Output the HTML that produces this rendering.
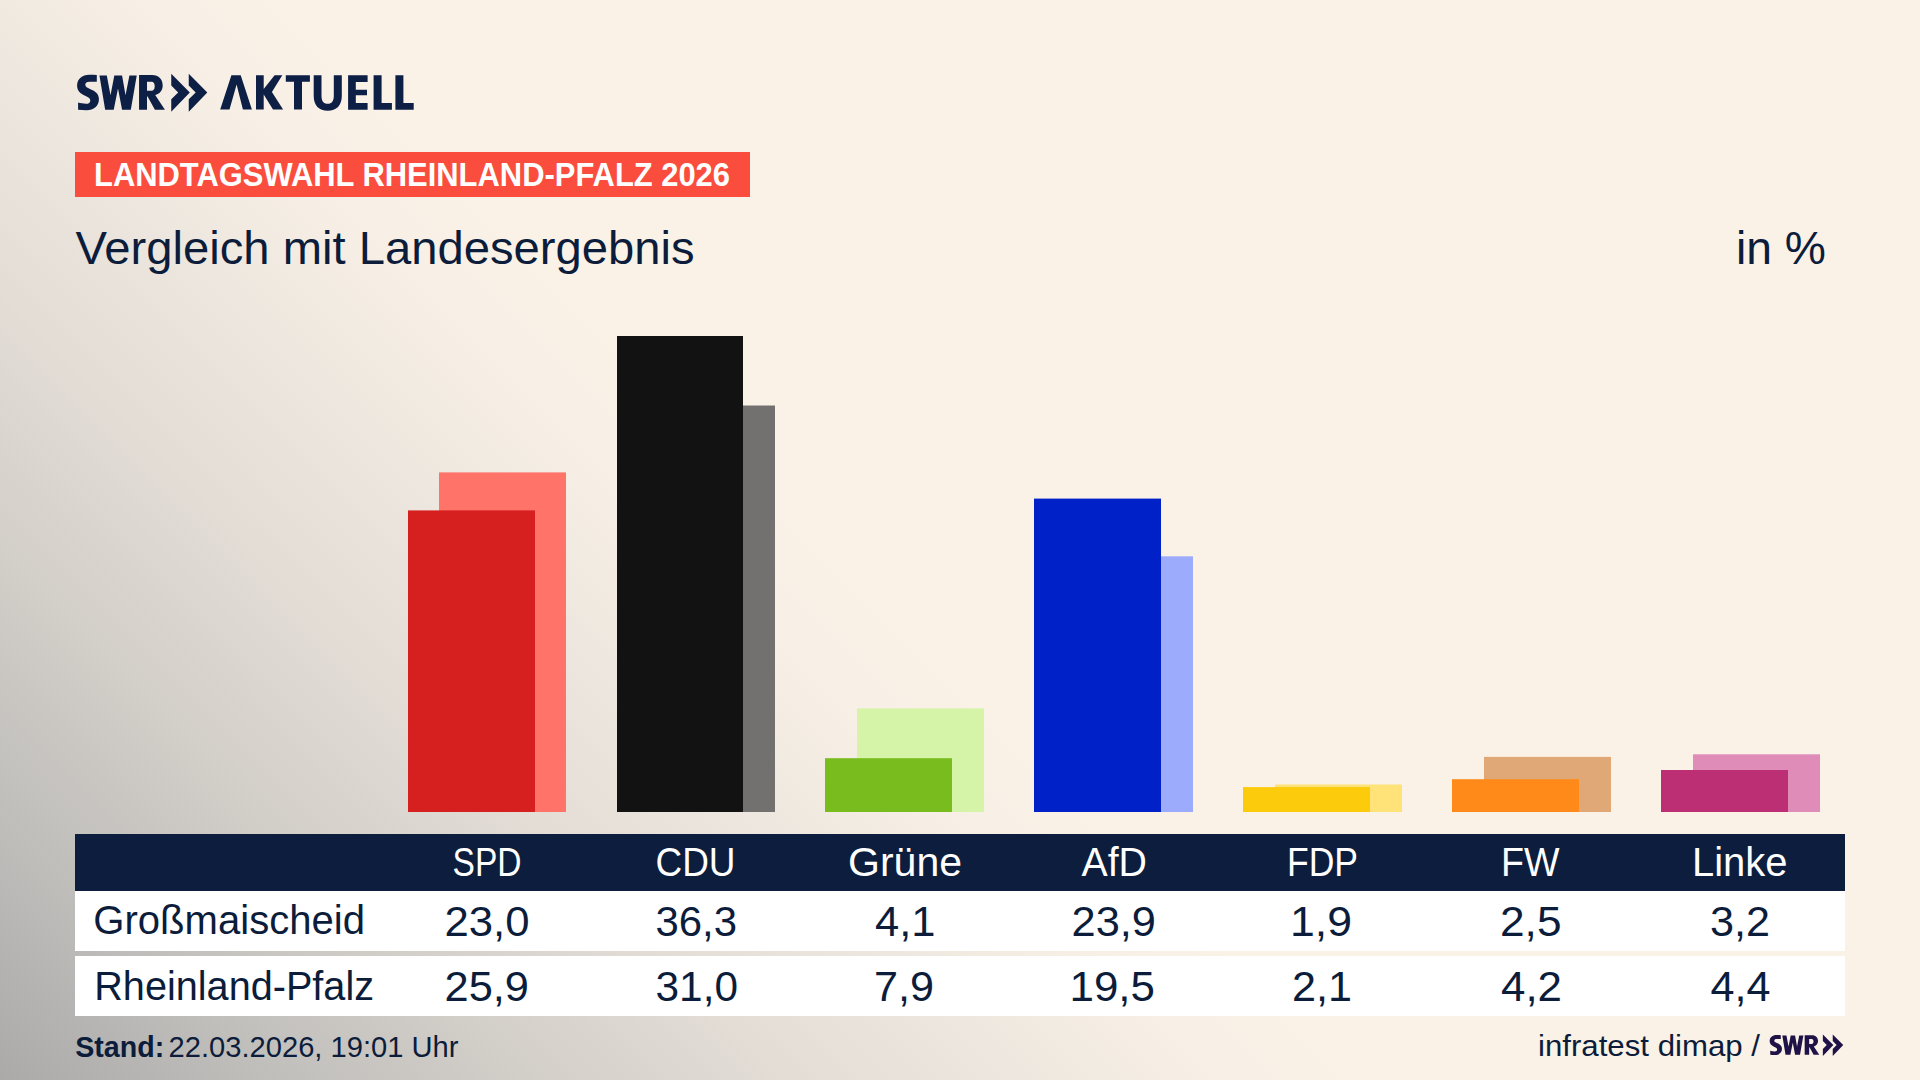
<!DOCTYPE html>
<html lang="de">
<head>
<meta charset="utf-8">
<title>Vergleich mit Landesergebnis</title>
<style>
html,body{margin:0;padding:0;width:1920px;height:1080px;overflow:hidden;}
body{
  font-family:"Liberation Sans", sans-serif;
  background:#faf2e7;
}
#bg{position:absolute;left:0;top:0;width:1920px;height:1080px;
  background:linear-gradient(45deg, #abaaa9 0px, #c1bfbc 200px, #d3cfc9 382px, #e3ddd6 560px, #eee7df 720px, #f7efe5 850px, #faf2e7 960px);
}
svg{position:absolute;left:0;top:0;}
text{font-family:"Liberation Sans", sans-serif;}
</style>
</head>
<body>
<div id="bg"></div>
<svg width="1920" height="1080" viewBox="0 0 1920 1080">
  <!-- Logo SWR>> AKTUELL -->
  <g id="logo" fill="#0d1f45">
    <path d="M96.8,75.1 L96.8,81.8 L89.5,81.8 C86.8,81.8 85.3,83 85.3,84.8 C85.3,86.8 87.2,87.8 90,89 C95.8,91.4 98.9,94 98.9,99.2 C98.9,106 93.8,110.2 86.5,110.2 C83.5,110.2 80.6,110 78.1,109.7 L78.1,102.6 C80.5,103.3 83.3,103.8 86,103.8 C88.9,103.8 90.3,102.4 90.3,100.4 C90.3,98.4 88.6,97.3 85.6,96 C80,93.6 77.1,90.6 77.1,85.5 C77.1,78.8 82.2,74.7 89.2,74.7 C92,74.7 94.6,74.9 96.8,75.1 Z"/>
    <path d="M99.46,75.5 L106.8,75.5 L110.5,95.26 L114.33,75.5 L122.07,75.5 L125.54,95.26 L129.41,75.5 L136.74,75.5 L130.83,109.72 L122.07,109.72 L118,88.54 L113.72,109.72 L105.17,109.72 Z"/>
    <path fill-rule="evenodd" d="M139.06,75.1 L152,75.1 C159,75.1 162.7,79.5 162.7,85.5 C162.7,90.5 159.5,94 155.2,95.1 L164.9,109.7 L154.9,109.7 L147.6,96.4 L147,96.4 L147,109.7 L139.06,109.7 Z M147,81.8 L151.5,81.8 C153.6,81.8 154.7,83.5 154.7,86.3 C154.7,89.1 153.6,90.8 151.5,90.8 L147,90.8 Z"/>
    <path d="M171.25,73.7 L189.8,92.6 L171.25,111.7 L171.25,99.3 L178.2,92.6 L171.25,85.5 Z"/>
    <path d="M188.75,73.7 L207.3,92.6 L188.75,111.7 L188.75,99.3 L195.7,92.6 L188.75,85.5 Z"/>
    <path d="M231.4,75.2 L240.7,75.2 L251.9,109.6 L242.9,109.6 L236.6,84.5 L229.5,109.6 L220.2,109.6 Z"/>
    <path d="M256,75.2 L263.7,75.2 L263.7,89.1 L274.6,75.2 L282.3,75.2 L271.9,91.9 L283.1,109.6 L273,109.6 L263.7,94.6 L263.7,109.6 L256,109.6 Z"/>
    <path d="M285.8,75.2 L309.9,75.2 L309.9,81.8 L302,81.8 L302,109.6 L294,109.6 L294,81.8 L285.8,81.8 Z"/>
    <path d="M313.7,75.2 H321.5 V96 C321.5,101 323.5,103.8 327.7,103.8 C331.8,103.8 333.8,101 333.8,96 V75.2 H341.8 V96 C341.8,105.5 336.5,110.7 327.7,110.7 C319,110.7 313.7,105.5 313.7,96 Z"/>
    <path d="M348.1,75.2 H367.6 V82 H355.8 V89.8 H367 V95.2 H355.8 V102.9 H367.6 V109.8 H348.1 Z"/>
    <path d="M373.6,75.2 H381.6 V102.9 H391.9 V109.8 H373.6 Z"/>
    <path d="M395.4,75.2 H403.4 V102.9 H413.7 V109.8 H395.4 Z"/>
  </g>

  <!-- Label box -->
  <rect x="75" y="152" width="675" height="45" fill="#fb4d3d"/>

  <!-- Title -->

  <!-- Bars: secondary (Rheinland-Pfalz) behind, main (Großmaischeid) front -->
  <g id="bars">
    <rect x="439" y="472.4" width="127" height="339.6" fill="#ff7369"/>
    <rect x="408" y="510.4" width="127" height="301.6" fill="#d61f1f"/>

    <rect x="648" y="405.5" width="127" height="406.5" fill="#737170"/>
    <rect x="617" y="336" width="126" height="476" fill="#121212"/>

    <rect x="857" y="708.4" width="127" height="103.6" fill="#d5f4a8"/>
    <rect x="825" y="758.2" width="127" height="53.8" fill="#78bc1e"/>

    <rect x="1066" y="556.3" width="127" height="255.7" fill="#9dabfd"/>
    <rect x="1034" y="498.6" width="127" height="313.4" fill="#0020c8"/>

    <rect x="1275" y="784.5" width="127" height="27.5" fill="#ffe278"/>
    <rect x="1243" y="787.1" width="127" height="24.9" fill="#fccb0c"/>

    <rect x="1484" y="756.9" width="127" height="55.1" fill="#e0a877"/>
    <rect x="1452" y="779.2" width="127" height="32.8" fill="#ff8a19"/>

    <rect x="1693" y="754.3" width="127" height="57.7" fill="#e08cb8"/>
    <rect x="1661" y="770" width="127" height="42" fill="#bc2f75"/>
  </g>

  <!-- Table -->
  <rect x="75" y="834" width="1770" height="57" fill="#0c1d3d"/>
  <rect x="75" y="891" width="1770" height="60" fill="#ffffff"/>
  <rect x="75" y="956" width="1770" height="60" fill="#ffffff"/>

  <!-- Texts -->
  <text x="94.00" y="186.2" font-size="33.6" font-weight="bold" fill="#ffffff" textLength="636.00" lengthAdjust="spacingAndGlyphs">LANDTAGSWAHL RHEINLAND-PFALZ 2026</text>
  <text x="75.50" y="263.9" font-size="46" fill="#0c1c3b" textLength="619.00" lengthAdjust="spacingAndGlyphs">Vergleich mit Landesergebnis</text>
  <text x="1736.00" y="264" font-size="46" fill="#0c1c3b" textLength="90.00" lengthAdjust="spacingAndGlyphs">in %</text>
  <text x="452.50" y="876.2" font-size="40.5" fill="#ffffff" textLength="69.00" lengthAdjust="spacingAndGlyphs">SPD</text>
  <text x="655.50" y="876.2" font-size="40.5" fill="#ffffff" textLength="80.00" lengthAdjust="spacingAndGlyphs">CDU</text>
  <text x="848.00" y="876.2" font-size="40.5" fill="#ffffff" textLength="114.00" lengthAdjust="spacingAndGlyphs">Grüne</text>
  <text x="1081.50" y="876.2" font-size="40.5" fill="#ffffff" textLength="65.50" lengthAdjust="spacingAndGlyphs">AfD</text>
  <text x="1287.00" y="876.2" font-size="40.5" fill="#ffffff" textLength="71.00" lengthAdjust="spacingAndGlyphs">FDP</text>
  <text x="1501.00" y="876.2" font-size="40.5" fill="#ffffff" textLength="58.50" lengthAdjust="spacingAndGlyphs">FW</text>
  <text x="1692.00" y="876.2" font-size="40.5" fill="#ffffff" textLength="95.50" lengthAdjust="spacingAndGlyphs">Linke</text>
  <text x="93.25" y="933.9" font-size="40.3" fill="#0c1c3b" textLength="271.75" lengthAdjust="spacingAndGlyphs">Großmaischeid</text>
  <text x="94.25" y="999.9" font-size="40.3" fill="#0c1c3b" textLength="279.75" lengthAdjust="spacingAndGlyphs">Rheinland-Pfalz</text>
  <text x="444.50" y="935.5" font-size="42" fill="#0c1c3b" textLength="85.00" lengthAdjust="spacingAndGlyphs">23,0</text>
  <text x="655.50" y="935.5" font-size="42" fill="#0c1c3b" textLength="81.50" lengthAdjust="spacingAndGlyphs">36,3</text>
  <text x="875.00" y="935.5" font-size="42" fill="#0c1c3b" textLength="60.50" lengthAdjust="spacingAndGlyphs">4,1</text>
  <text x="1071.50" y="935.5" font-size="42" fill="#0c1c3b" textLength="84.50" lengthAdjust="spacingAndGlyphs">23,9</text>
  <text x="1290.00" y="935.5" font-size="42" fill="#0c1c3b" textLength="62.00" lengthAdjust="spacingAndGlyphs">1,9</text>
  <text x="1500.00" y="935.5" font-size="42" fill="#0c1c3b" textLength="61.50" lengthAdjust="spacingAndGlyphs">2,5</text>
  <text x="1710.00" y="935.5" font-size="42" fill="#0c1c3b" textLength="60.00" lengthAdjust="spacingAndGlyphs">3,2</text>
  <text x="444.50" y="1001.0" font-size="42" fill="#0c1c3b" textLength="84.50" lengthAdjust="spacingAndGlyphs">25,9</text>
  <text x="655.50" y="1001.0" font-size="42" fill="#0c1c3b" textLength="82.50" lengthAdjust="spacingAndGlyphs">31,0</text>
  <text x="874.00" y="1001.0" font-size="42" fill="#0c1c3b" textLength="60.00" lengthAdjust="spacingAndGlyphs">7,9</text>
  <text x="1069.50" y="1001.0" font-size="42" fill="#0c1c3b" textLength="85.50" lengthAdjust="spacingAndGlyphs">19,5</text>
  <text x="1292.00" y="1001.0" font-size="42" fill="#0c1c3b" textLength="60.00" lengthAdjust="spacingAndGlyphs">2,1</text>
  <text x="1501.00" y="1001.0" font-size="42" fill="#0c1c3b" textLength="61.00" lengthAdjust="spacingAndGlyphs">4,2</text>
  <text x="1710.50" y="1001.0" font-size="42" fill="#0c1c3b" textLength="60.00" lengthAdjust="spacingAndGlyphs">4,4</text>
  <text x="75.25" y="1056.6" font-size="29.5" font-weight="bold" fill="#0c1c3b" textLength="89.00" lengthAdjust="spacingAndGlyphs">Stand:</text>
  <text x="168.50" y="1056.5" font-size="29.5" fill="#0c1c3b" textLength="290.00" lengthAdjust="spacingAndGlyphs">22.03.2026, 19:01 Uhr</text>
  <text x="1538.00" y="1055.8" font-size="29.5" fill="#0c1c3b" textLength="222.00" lengthAdjust="spacingAndGlyphs">infratest dimap /</text>
  <!-- Footer logo -->

  <g transform="translate(1726.1,992.8) scale(0.565)" fill="#1e1246">
    <path d="M96.8,75.1 L96.8,81.8 L89.5,81.8 C86.8,81.8 85.3,83 85.3,84.8 C85.3,86.8 87.2,87.8 90,89 C95.8,91.4 98.9,94 98.9,99.2 C98.9,106 93.8,110.2 86.5,110.2 C83.5,110.2 80.6,110 78.1,109.7 L78.1,102.6 C80.5,103.3 83.3,103.8 86,103.8 C88.9,103.8 90.3,102.4 90.3,100.4 C90.3,98.4 88.6,97.3 85.6,96 C80,93.6 77.1,90.6 77.1,85.5 C77.1,78.8 82.2,74.7 89.2,74.7 C92,74.7 94.6,74.9 96.8,75.1 Z"/>
    <path d="M99.46,75.5 L106.8,75.5 L110.5,95.26 L114.33,75.5 L122.07,75.5 L125.54,95.26 L129.41,75.5 L136.74,75.5 L130.83,109.72 L122.07,109.72 L118,88.54 L113.72,109.72 L105.17,109.72 Z"/>
    <path fill-rule="evenodd" d="M139.06,75.1 L152,75.1 C159,75.1 162.7,79.5 162.7,85.5 C162.7,90.5 159.5,94 155.2,95.1 L164.9,109.7 L154.9,109.7 L147.6,96.4 L147,96.4 L147,109.7 L139.06,109.7 Z M147,81.8 L151.5,81.8 C153.6,81.8 154.7,83.5 154.7,86.3 C154.7,89.1 153.6,90.8 151.5,90.8 L147,90.8 Z"/>
    <path d="M171.25,73.7 L189.8,92.6 L171.25,111.7 L171.25,99.3 L178.2,92.6 L171.25,85.5 Z"/>
    <path d="M188.75,73.7 L207.3,92.6 L188.75,111.7 L188.75,99.3 L195.7,92.6 L188.75,85.5 Z"/>
  </g>
</svg>
</body>
</html>
